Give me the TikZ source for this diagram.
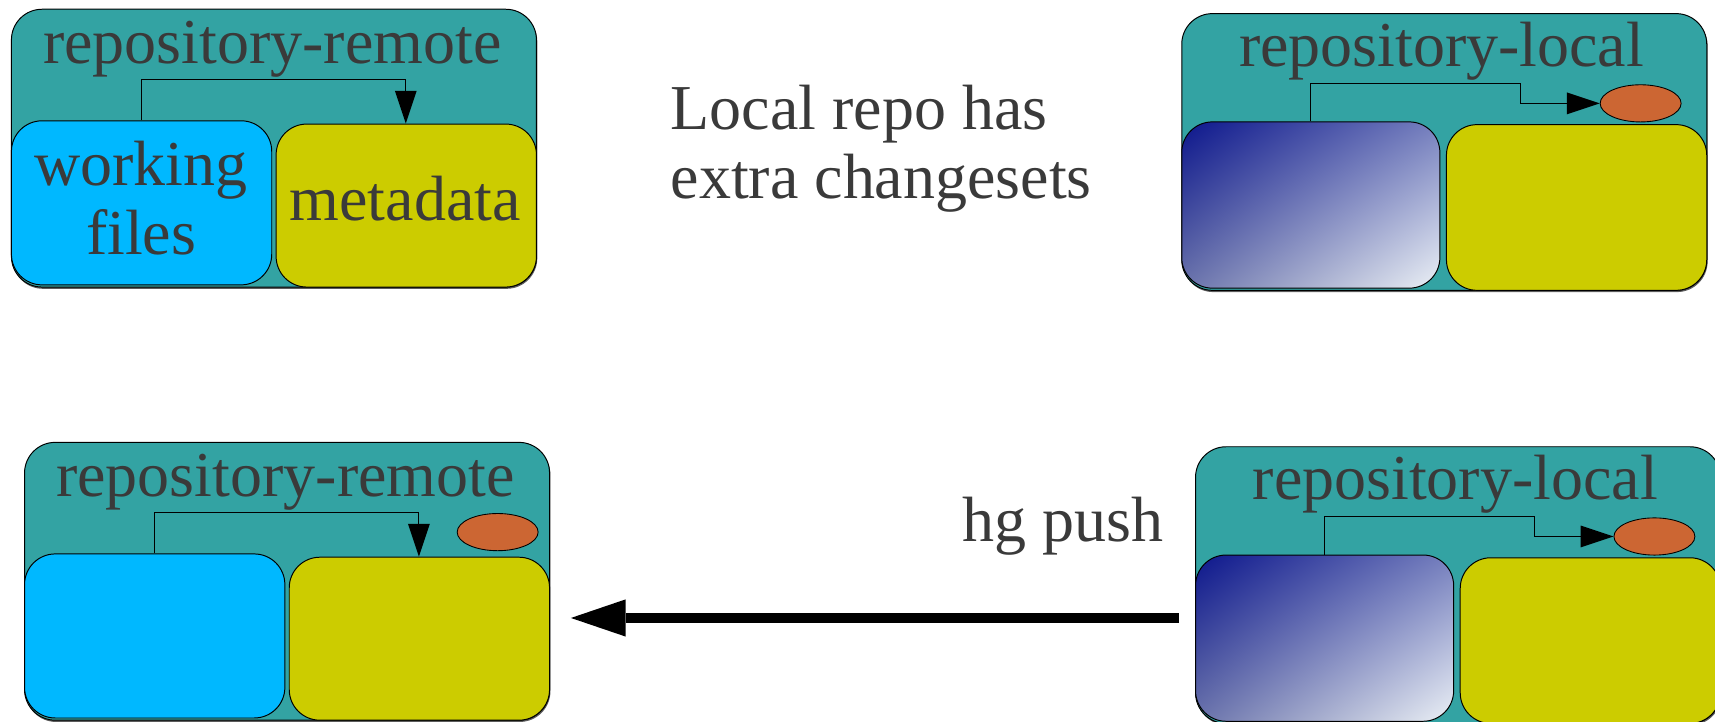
\documentclass[tikz,border=0pt]{standalone}
\usepackage{fontspec}
\setmainfont{Liberation Serif}
\usetikzlibrary{arrows.meta,shadings,shapes.geometric,shadows}

\definecolor{repoteal}{RGB}{51,163,163}
\definecolor{wfcyan}{RGB}{0,184,255}
\definecolor{metayellow}{RGB}{204,204,0}
\definecolor{csorange}{RGB}{204,102,51}
\definecolor{inkgray}{RGB}{58,58,58}
\definecolor{gradA}{RGB}{12,22,140}
\definecolor{gradB}{RGB}{236,241,246}
\definecolor{gradM}{RGB}{118,128,190}

\tikzset{
  big/.style={font=\fontsize{58.5}{63}\selectfont, text=inkgray, inner sep=0pt},
  repobox/.style={draw=black, line width=0.9pt, rounded corners=28pt, fill=repoteal,
    anchor=north west, minimum width=480pt, minimum height=254pt, inner sep=0pt,
    drop shadow={shadow xshift=0.8pt, shadow yshift=-1.6pt, opacity=0.85, fill=black!75}},
  part/.style={draw=black, line width=0.9pt, rounded corners=28pt, anchor=north west,
    inner sep=0pt, minimum width=238pt, minimum height=150pt},
  wfbox/.style={part, fill=wfcyan},
  mdbox/.style={part, fill=metayellow},
  gradbox/.style={part, minimum width=236pt, minimum height=152pt,
    shading=bilinear interpolation,
    upper left=gradA, upper right=gradM, lower left=gradM!90!black, lower right=gradB},
  cset/.style={ellipse, draw=black, line width=0.8pt, fill=csorange, inner sep=0pt,
    minimum width=74pt, minimum height=34pt},
  link/.style={draw=black, line width=0.9pt,
    -{Triangle[length=30pt,width=20pt,line width=0pt]}},
  push/.style={draw=black, line width=9pt,
    -{Triangle[length=50pt,width=34pt,line width=0pt]}},
}

\begin{document}
\begin{tikzpicture}[x=1pt, y=-1pt]
\useasboundingbox (0,0) rectangle (1568,660);

% ---- remote repository, before the push ----
\node[repobox] (rr1) at (10,8) {};
\node[big, anchor=base] (rr1t) at (249,58) {repository-remote};
\node[wfbox] (wf1) at (10,110) {};
\node[mdbox, minimum height=149pt] (md1) at (252,113) {};
\node[big, align=center, anchor=north] (wf1t) at (129,129) {working\\files};
\node[big, anchor=base] (md1t) at (370.5,202) {metadata};
\coordinate (c1a) at (129,73);
\coordinate (c1b) at (371,73);
\draw[link] (wf1.north -| c1a) -- (c1a) -- (c1b) -- (md1.north -| c1b);

% ---- local repository with an extra changeset ----
\node[repobox, minimum height=253pt] (rl1) at (1080,12) {};
\node[big, anchor=base] (rl1t) at (1318,61) {repository-local};
\node[gradbox] (gb1) at (1080,111) {};
\node[mdbox, minimum height=151.5pt] (yb1) at (1322,113.5) {};
\node[cset] (cs1) at (1500,94.5) {};
\coordinate (c2a) at (1198,76);
\coordinate (c2b) at (1390,76);
\draw[link] (gb1.north -| c2a) -- (c2a) -- (c2b) |- (cs1.west);

\node[big, align=left, anchor=north west] (note1) at (613,78)
  {Local repo has\\extra changesets};

% ---- remote repository, after the push ----
\begin{scope}[shift={(12,396)}]
\node[repobox] (rr2) at (10,8) {};
\node[big, anchor=base] (rr2t) at (249,58) {repository-remote};
\node[wfbox] (wf2) at (10,110) {};
\node[mdbox, minimum height=149pt] (md2) at (252,113) {};
\node[cset] (cs2) at (443,90.5) {};
\coordinate (c3a) at (129,73);
\coordinate (c3b) at (371,73);
\draw[link] (wf2.north -| c3a) -- (c3a) -- (c3b) -- (md2.north -| c3b);
\end{scope}

% ---- local repository, pushing ----
\begin{scope}[shift={(12.6,396)}]
\node[repobox, minimum height=253pt] (rl2) at (1080,12) {};
\node[big, anchor=base] (rl2t) at (1318,61) {repository-local};
\node[gradbox] (gb2) at (1080,111) {};
\node[mdbox, minimum height=151.5pt] (yb2) at (1322,113.5) {};
\node[cset] (cs2b) at (1500,94.5) {};
\coordinate (c4a) at (1198,76);
\coordinate (c4b) at (1390,76);
\draw[link] (gb2.north -| c4a) -- (c4a) -- (c4b) |- (cs2b.west);
\end{scope}

\node[big, anchor=base west] (pushlbl) at (880,495) {hg push};
\coordinate (pushfrom) at (1078,565);
\coordinate (pushto) at (522,565);
\draw[push] (pushfrom) -- (pushto);
\end{tikzpicture}
\end{document}
